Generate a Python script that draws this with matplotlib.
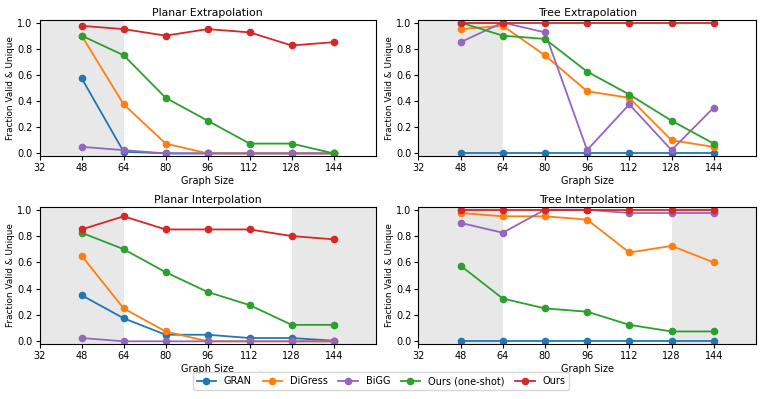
import matplotlib.pyplot as plt
import numpy as np

sizes = [48, 64, 80, 96, 112, 128, 144]
methods = ['GRAN', 'DiGress', 'BiGG', 'Ours (one-shot)', 'Ours']
colors = ['#1f77b4', '#ff7f0e', '#9467bd', '#2ca02c', '#d62728']

# values, one list per method
planar_extra = {
    'GRAN': [0.575, 0.0125, 0.0, 0.0, 0.0, 0.0, 0.0],
    'DiGress': [0.9, 0.375, 0.075, 0.0, 0.0, 0.0, 0.0],
    'BiGG': [0.05, 0.025, 0.0, 0.0, 0.0, 0.0, 0.0],
    'Ours (one-shot)': [0.9, 0.75, 0.425, 0.25, 0.075, 0.075, 0.0],
    'Ours': [0.975, 0.95, 0.9, 0.95, 0.925, 0.825, 0.85],
}
tree_extra = {
    'GRAN': [0.0, 0.0, 0.0, 0.0, 0.0, 0.0, 0.0],
    'DiGress': [0.95, 0.975, 0.75, 0.475, 0.425, 0.1, 0.05],
    'BiGG': [0.85, 1.0, 0.925, 0.025, 0.375, 0.025, 0.35],
    'Ours (one-shot)': [1.0, 0.9, 0.875, 0.625, 0.45, 0.25, 0.075],
    'Ours': [1.0, 1.0, 1.0, 1.0, 1.0, 1.0, 1.0],
}
planar_inter = {
    'GRAN': [0.35, 0.175, 0.05, 0.05, 0.025, 0.025, 0.005],
    'DiGress': [0.65, 0.25, 0.075, 0.0, 0.0, 0.0, 0.0],
    'BiGG': [0.025, 0.0, 0.0, 0.0, 0.0, 0.0, 0.0],
    'Ours (one-shot)': [0.825, 0.7, 0.525, 0.375, 0.275, 0.125, 0.125],
    'Ours': [0.85, 0.95, 0.85, 0.85, 0.85, 0.8, 0.775],
}
tree_inter = {
    'GRAN': [0.0, 0.0, 0.0, 0.0, 0.0, 0.0, 0.0],
    'DiGress': [0.975, 0.95, 0.95, 0.925, 0.675, 0.725, 0.6],
    'BiGG': [0.9, 0.825, 1.0, 1.0, 0.975, 0.975, 0.975],
    'Ours (one-shot)': [0.575, 0.325, 0.25, 0.225, 0.125, 0.075, 0.075],
    'Ours': [1.0, 1.0, 1.0, 1.0, 1.0, 1.0, 1.0],
}

panels = [
    ('Planar Extrapolation', planar_extra, [(32, 64)]),
    ('Tree Extrapolation', tree_extra, [(32, 64)]),
    ('Planar Interpolation', planar_inter, [(32, 64), (128, 160)]),
    ('Tree Interpolation', tree_inter, [(32, 64), (128, 160)]),
]

fig = plt.figure(figsize=(7.62, 3.99), dpi=100)
boxes = [
    [0.052, 0.609, 0.441, 0.341],
    [0.549, 0.609, 0.443, 0.341],
    [0.052, 0.138, 0.441, 0.343],
    [0.549, 0.138, 0.443, 0.343],
]

for (title, data, spans), box in zip(panels, boxes):
    ax = fig.add_axes(box)
    for lo, hi in spans:
        ax.axvspan(lo, hi, color='lightgray', alpha=0.5, lw=0)
    for m, c in zip(methods, colors):
        ax.plot(sizes, data[m], marker='o', ms=4.5, lw=1.3, color=c, label=m)
    ax.set_xlim(32, 160)
    ax.set_ylim(-0.02, 1.02)
    ax.set_xticks([32, 48, 64, 80, 96, 112, 128, 144])
    ax.set_yticks([0.0, 0.2, 0.4, 0.6, 0.8, 1.0])
    ax.tick_params(labelsize=7, length=3, pad=2)
    ax.set_title(title, fontsize=7.8, pad=3)
    ax.set_xlabel('Graph Size', fontsize=7, labelpad=2)
    ax.set_ylabel('Fraction Valid & Unique', fontsize=6.4, labelpad=1.5)

handles, labels = ax.get_legend_handles_labels()
fig.legend(handles, labels, loc='lower center', ncol=5, fontsize=7,
           bbox_to_anchor=(0.5, 0.01), frameon=True, columnspacing=1.1)

fig.savefig('out.png', dpi=100)
